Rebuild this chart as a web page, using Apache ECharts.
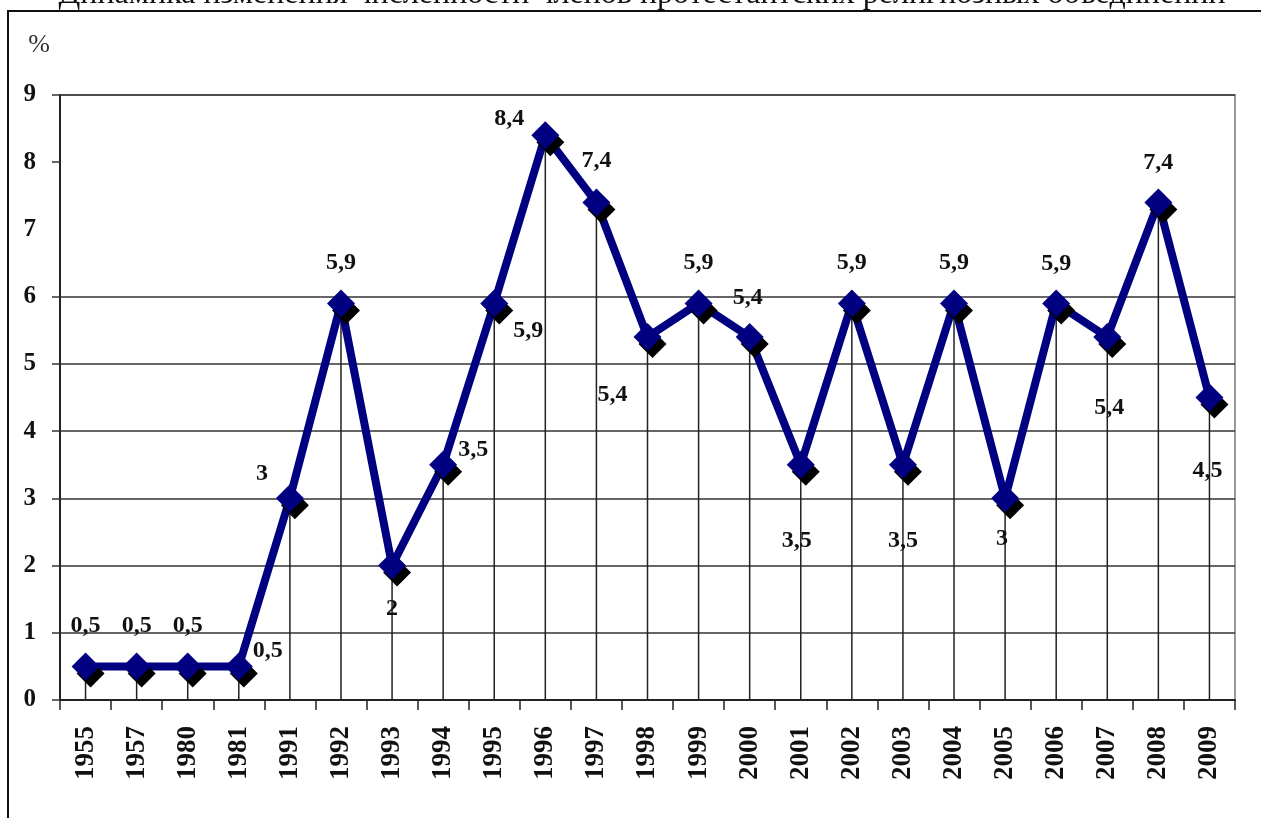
<!DOCTYPE html>
<html><head><meta charset="utf-8">
<script src="https://cdn.jsdelivr.net/npm/echarts@6/dist/echarts.min.js"></script>
<style>html,body{margin:0;padding:0;background:#fff}#c{width:1261px;height:818px}</style>
</head><body><div id="c"></div>
<script>
const titleText = 'Динамика изменения численности членов протестантских религиозных объединений';
const unitLabel = '%';
const years = ['1955','1957','1980','1981','1991','1992','1993','1994','1995','1996','1997','1998','1999','2000','2001','2002','2003','2004','2005','2006','2007','2008','2009'];
const values = [0.5,0.5,0.5,0.5,3,5.9,2,3.5,5.9,8.4,7.4,5.4,5.9,5.4,3.5,5.9,3.5,5.9,3,5.9,5.4,7.4,4.5];
const yMin = 0, yMax = 9, yStep = 1;
const yTickValues = [0,1,2,3,4,5,6,8,9];

// label placement (style): offset of each value label from its marker centre
const labelOffsets = [[0,-41],[0,-41],[0,-41],[29,-16],[-28,-25],[0,-41],[0,43],[30,-15],[34,27],[-36,-17],[0,-42],[-35,58],[0,-41],[-2,-39],[-4,76],[0,-41],[0,76],[0,-41],[-3,40],[0,-40],[2,71],[0,-40],[-2,73]];

const serif = '"Liberation Serif","Times New Roman",serif';
const fmt = v => String(v).replace('.', ',');

const lineData = values.map((v, i) => ({
  value: v,
  label: { offset: labelOffsets[i] }
}));

const chart = echarts.init(document.getElementById('c'), null, { renderer: 'canvas' });
chart.setOption({
  animation: false,
  backgroundColor: '#fff',
  graphic: [
    { type: 'line', shape: { x1: 8, y1: 11, x2: 1261, y2: 11 }, style: { stroke: '#111', lineWidth: 2 }, z: 10 },
    { type: 'line', shape: { x1: 8, y1: 10, x2: 8, y2: 818 }, style: { stroke: '#111', lineWidth: 2 }, z: 10 },
    { type: 'text', x: 642, y: 11, style: { text: titleText, font: '32px ' + serif, fill: '#111', align: 'center', verticalAlign: 'bottom' } },
    { type: 'text', x: 39, y: 45, style: { text: unitLabel, font: '26px ' + serif, fill: '#333', align: 'center', verticalAlign: 'middle' } }
  ],
  grid: { left: 60, right: 26, top: 95, bottom: 118, show: true, borderColor: '#999', borderWidth: 2, backgroundColor: 'transparent' },
  xAxis: {
    type: 'category',
    data: years,
    boundaryGap: true,
    axisLine: { lineStyle: { color: '#222', width: 2 } },
    axisTick: { show: true, length: 10, alignWithLabel: false, lineStyle: { color: '#222', width: 1.5 } },
    axisLabel: { rotate: 90, margin: 26, color: '#111', fontFamily: serif, fontWeight: 'bold', fontSize: 27 },
    splitLine: { show: false }
  },
  yAxis: {
    type: 'value',
    min: yMin, max: yMax, interval: yStep,
    axisLine: { show: true, lineStyle: { color: '#222', width: 2 } },
    axisTick: { show: true, length: 8, customValues: yTickValues, lineStyle: { color: '#333', width: 1.5 } },
    axisLabel: { margin: 24, color: '#111', fontFamily: serif, fontWeight: 'bold', fontSize: 25 },
    splitLine: { show: true, lineStyle: { width: 1.5, color: ['#333','#333','#333','#333','#333','#333','#333','rgba(0,0,0,0)','#333','#999'] } }
  },
  series: [
    {
      type: 'bar',
      data: values,
      barWidth: 1.5,
      silent: true,
      itemStyle: { color: '#222' },
      z: 1
    },
    {
      type: 'line',
      data: lineData,
      symbol: 'diamond',
      symbolSize: [28, 28],
      lineStyle: { color: '#000080', width: 8 },
      itemStyle: { color: '#000080', shadowColor: '#000', shadowOffsetX: 5, shadowOffsetY: 7, shadowBlur: 0 },
      label: {
        show: true,
        position: 'inside',
        formatter: p => fmt(p.value),
        color: '#111',
        fontFamily: serif,
        fontWeight: 'bold',
        fontSize: 24
      },
      z: 3
    }
  ]
});
</script>
</body></html>
